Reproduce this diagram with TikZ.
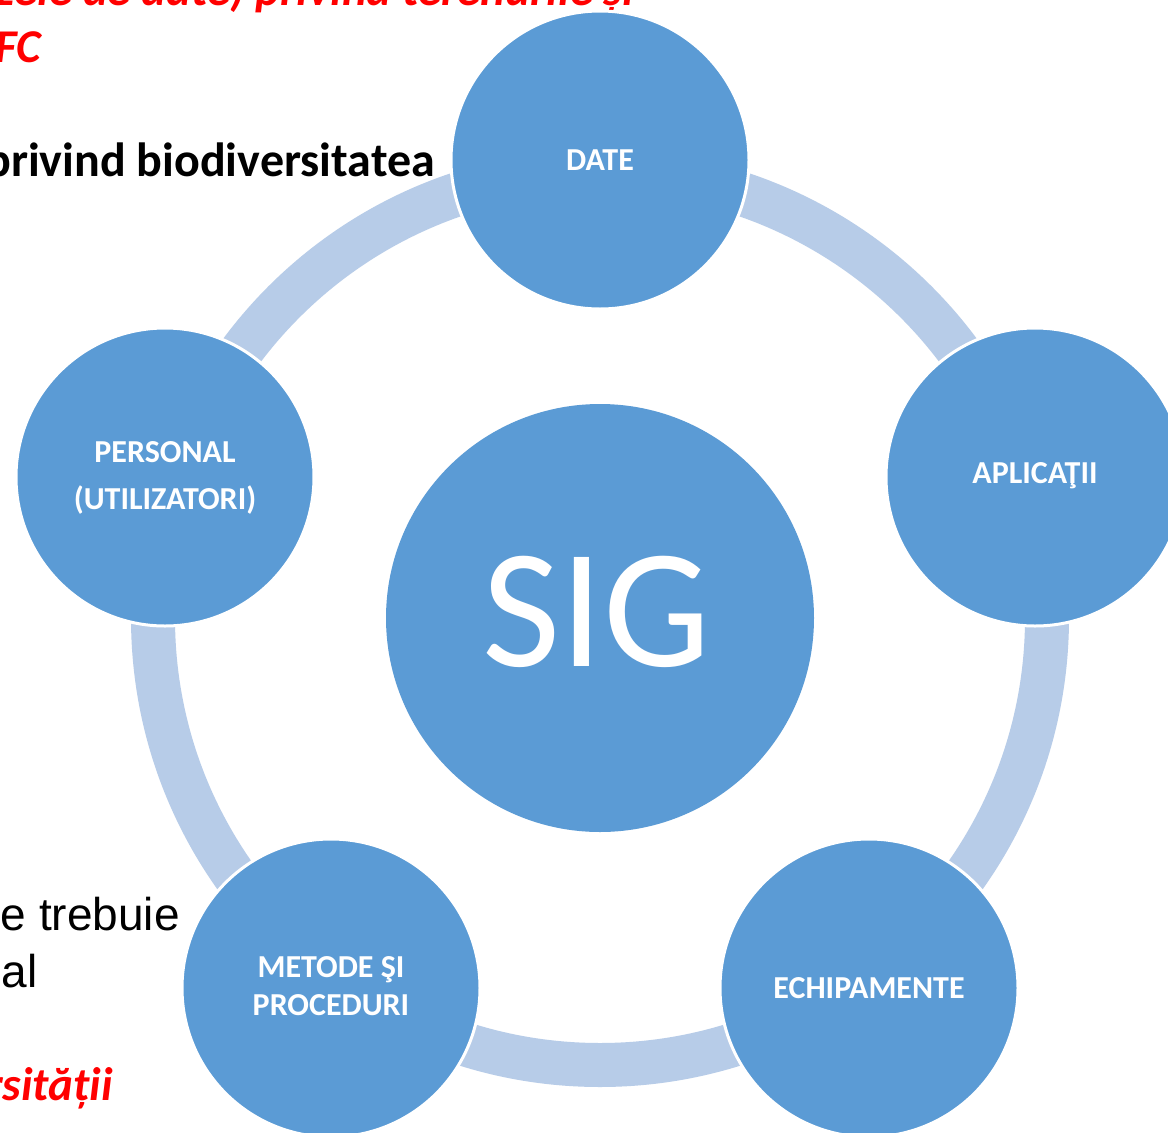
\documentclass[tikz,border=0pt]{standalone}
\usepackage{fontspec}
\newfontfamily\carlito{Carlito}
\newfontfamily\arialf{Liberation Sans}
\definecolor{nodeblue}{HTML}{5B9BD5}
\definecolor{ringblue}{HTML}{B7CCE8}
\definecolor{textred}{HTML}{FF0000}
\tikzset{
  outer/.style={circle, fill=nodeblue, draw=white, line width=3pt, minimum size=298pt, inner sep=0pt},
  lbl/.style={text=white, font=\carlito\bfseries\fontsize{32}{38}\selectfont, align=center, inner sep=0pt},
  redtxt/.style={text=textred, font=\carlito\bfseries\itshape\fontsize{47}{50}\selectfont, inner sep=0pt},
  blacktxt/.style={text=black, font=\carlito\bfseries\fontsize{48}{50}\selectfont, inner sep=0pt},
  arialtxt/.style={text=black, font=\arialf\fontsize{46}{50}\selectfont, inner sep=0pt}
}
\begin{document}
\begin{tikzpicture}[x=1pt,y=-1pt]
\useasboundingbox (0,0) rectangle (1168,1133);
\clip (0,0) rectangle (1168,1133);
\fill[white] (0,0) rectangle (1168,1133);
% background slide text (cut off at the edges)
\node[redtxt, anchor=base east] (t1) at (634,5) {Bazele de date) privind terenurile și};
\node[redtxt, anchor=base east] (t2) at (41,62) {FC};
\node[blacktxt, anchor=base east] (t3) at (435,176) {privind biodiversitatea};
\node[arialtxt, anchor=base east] (t4) at (180,930) {e trebuie};
\node[arialtxt, anchor=base east] (t5) at (38,987) {al};
\node[redtxt, anchor=base east] (t6) at (113,1100) {biodiversității};
% ring
\coordinate (c) at (600,618);
\draw[ringblue, line width=44pt] (c) circle (447pt);
% center
\node[circle, fill=nodeblue, minimum size=428pt, inner sep=0pt] (sig) at (c) {};
\node[text=white, font=\carlito\fontsize{170}{180}\selectfont, inner sep=0pt] (sigtxt) at (597,612) {SIG};
% outer circles
\node[outer] (date) at (600,160) {};
\node[outer] (apl) at (1035,477) {};
\node[outer] (ech) at (869,988) {};
\node[outer] (met) at (331,988) {};
\node[outer] (pers) at (165,477) {};
% labels
\node[lbl] (datel) at (600,160) {DATE};
\node[lbl] (apll) at (1035,476) {APLICAŢII};
\node[lbl] (echl) at (869,988) {ECHIPAMENTE};
\node[lbl] (metl1) at (331,970) {METODE ŞI};
\node[lbl] (metl2) at (331,1005) {PROCEDURI};
\node[lbl] (persl1) at (165,452) {PERSONAL};
\node[lbl] (persl2) at (165,500) {(UTILIZATORI)};
\end{tikzpicture}
\end{document}
